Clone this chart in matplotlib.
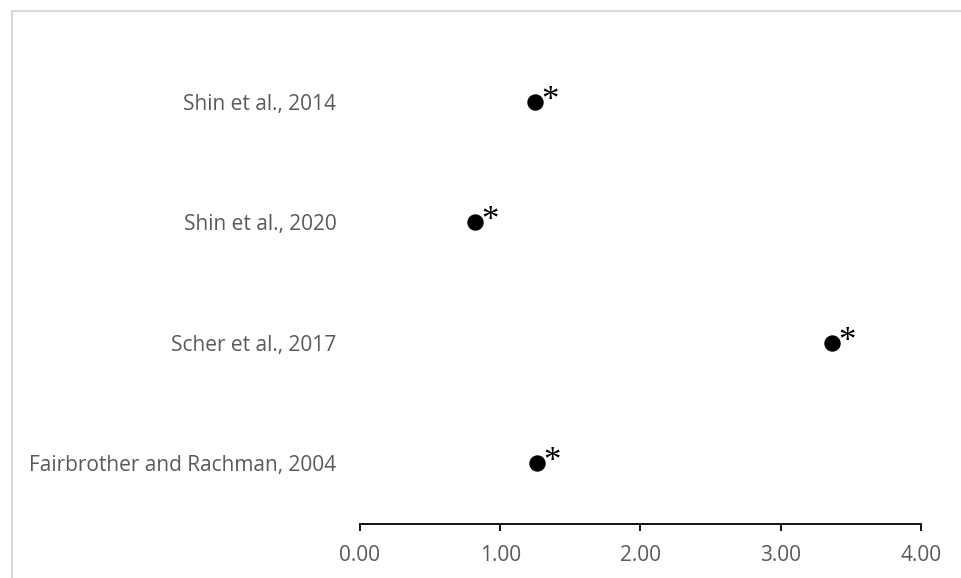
import matplotlib
matplotlib.use("Agg")
import matplotlib.pyplot as plt
from matplotlib.patches import Rectangle

# Study effect sizes (all marked significant)
studies = ["Shin et al., 2014", "Shin et al., 2020", "Scher et al., 2017",
           "Fairbrother and Rachman, 2004"]
effects = [1.25, 0.82, 3.37, 1.26]
significance = ["*", "*", "*", "*"]
x_ticks = [0.0, 1.0, 2.0, 3.0, 4.0]

plt.rcParams["font.family"] = ["Open Sans", "DejaVu Sans"]

fig = plt.figure(figsize=(9.62, 5.78), dpi=100)
ax = fig.add_axes([360 / 962, 1 - 523.5 / 578, 560.7 / 962, 482 / 578])

n = len(studies)
ypos = list(range(n, 0, -1))

ax.plot(effects, ypos, linestyle="none", marker="o", markersize=10.8,
        color="black", zorder=3)
for x, y, s in zip(effects, ypos, significance):
    ax.annotate(s, xy=(x, y), xytext=(15, -8), textcoords="offset pixels",
                ha="center", va="baseline", fontsize=25,
                family=["Liberation Serif"], color="black")

ax.set_xlim(0, 4)
ax.set_ylim(0.5, n + 0.5)
ax.set_xticks(x_ticks)
ax.set_xticklabels([f"{t:.2f}" for t in x_ticks])
ax.set_yticks(ypos)
ax.set_yticklabels(studies)

for side in ("top", "right", "left"):
    ax.spines[side].set_visible(False)
ax.spines["bottom"].set_linewidth(1.3)
ax.tick_params(axis="x", direction="out", length=5, width=1.3,
               colors="black", labelcolor="#595959", labelsize=15, pad=10.5)
ax.tick_params(axis="y", length=0, labelcolor="#595959", labelsize=15, pad=17)

fig.add_artist(Rectangle((11.5 / 962, -0.1), 1.2, 1.1 - 11.5 / 578,
                         transform=fig.transFigure, fill=False,
                         edgecolor="#d9d9d9", linewidth=1.5))

fig.savefig("out.png", dpi=100, facecolor="white")
